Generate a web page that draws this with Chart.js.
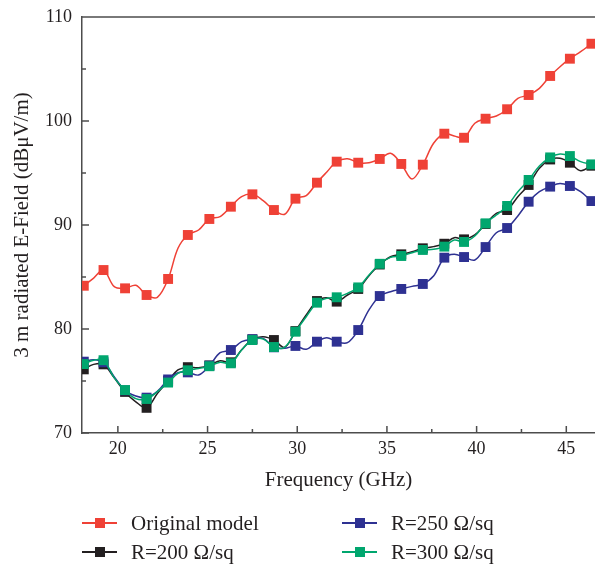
<!DOCTYPE html>
<html>
<head>
<meta charset="utf-8">
<script src="https://cdn.jsdelivr.net/npm/chart.js@4"></script>
<style>
  html, body { margin:0; padding:0; background:#fff; }
  #wrap { position:relative; width:595px; height:570px; }
  #legend { position:absolute; left:82px; top:511px; width:513px; display:grid; grid-template-columns:260px 253px; row-gap:5px;
            font-family:"Liberation Serif", serif; font-size:21px; color:#231f20; }
  .item { display:flex; align-items:center; height:24px; }
  .sample { position:relative; width:35px; height:24px; margin-right:14px; }
  .sample .ln { position:absolute; left:0; right:0; top:11px; height:1.5px; }
  .sample .mk { position:absolute; left:13px; top:7px; width:10px; height:10px; }
</style>
</head>
<body>
<div id="wrap">
  <canvas id="c" width="595" height="570"></canvas>
  <div id="legend"></div>
</div>
<script>
// frequency (GHz): markers on even indexes, spline points in between
const freq = [18.1,18.65,19.2,19.8,20.4,21.0,21.6,22.2,22.8,23.35,23.9,24.5,25.1,25.7,26.3,26.9,27.5,28.1,28.7,29.3,
  29.9,30.5,31.1,31.65,32.2,32.8,33.4,34.0,34.6,35.2,35.8,36.4,37.0,37.6,38.2,38.75,39.3,39.9,40.5,41.1,
  41.7,42.3,42.9,43.5,44.1,44.65,45.2,45.8,46.4];

const original = [84.16,84.9,85.67,84.07,83.91,84.2,83.27,83.05,84.81,87.76,89.04,89.52,90.58,90.8,91.76,92.72,92.95,92.34,91.44,91.03,
  92.53,92.82,94.07,95.1,96.09,96.38,95.99,95.99,96.35,96.89,95.87,94.42,95.8,97.86,98.78,98.56,98.39,99.78,100.22,100.48,
  101.13,102.18,102.5,103.14,104.33,105.22,105.99,106.66,107.43];

const r200 = [76.12,76.6,76.6,75.3,73.95,73.0,72.42,73.8,75.0,76.06,76.33,76.28,76.5,76.95,76.8,78.0,79.0,79.26,78.94,78.24,
  79.8,81.35,82.69,83.0,82.63,83.27,83.85,85.13,86.2,86.95,87.18,87.43,87.76,87.92,88.2,88.78,88.62,89.04,90.1,91.12,
  91.44,92.72,93.85,95.45,96.3,96.41,95.99,95.22,95.7];

const r250 = [76.86,77.05,76.8,75.4,74.1,73.56,73.4,74.0,75.15,75.8,75.83,75.58,76.47,77.72,77.98,78.78,79.02,79.1,78.24,78.14,
  78.37,78.05,78.78,79.17,78.78,78.69,79.9,81.83,83.17,83.59,83.85,84.1,84.33,85.1,86.86,87.18,86.92,86.63,87.88,89.26,
  89.71,90.87,92.24,93.2,93.69,94.0,93.75,93.2,92.3];

const r300 = [76.63,77.0,77.0,75.3,74.13,73.3,73.27,73.97,74.85,75.74,76.03,76.2,76.42,76.8,76.7,77.98,78.94,79.04,78.27,78.24,
  79.74,81.18,82.53,82.95,83.05,83.43,84.0,85.19,86.27,86.89,87.02,87.34,87.6,87.66,87.92,88.56,88.37,88.94,90.16,90.96,
  91.83,93.2,94.33,95.67,96.5,96.83,96.63,96.09,95.83];

const xTicks = [20,25,30,35,40,45];
const xMinor = [22.5,27.5,32.5,37.5,42.5];
const yMinor = [75,85,95,105];

const FONT = '"Liberation Serif", serif';
const AXIS = '#4d4d4d';

function series(label, vals, color, order){
  return {
    label, order,
    data: freq.map((f,i)=>({x:f, y:vals[i]})),
    borderColor: color, backgroundColor: color,
    borderWidth: 1.5, tension: 0.35,
    pointStyle: 'rect',
    pointRadius: ctx => ctx.dataIndex % 2 === 0 ? 7 : 0,
    pointBorderWidth: 0
  };
}

const datasets = [
  series('Original model', original, '#ef4136', 4),
  series('R=250 Ω/sq', r250, '#2e3192', 2),
  series('R=200 Ω/sq', r200, '#231f20', 3),
  series('R=300 Ω/sq', r300, '#00a66e', 1)
];

// inward tick marks + top frame line
const frame = {
  id:'frame',
  afterDraw(chart){
    const {ctx, chartArea:a, scales:{x,y}} = chart;
    ctx.save();
    ctx.strokeStyle = AXIS; ctx.lineWidth = 1.5;
    ctx.beginPath();
    ctx.moveTo(a.left, a.top); ctx.lineTo(a.right, a.top);
    xTicks.forEach(v=>{ const px=x.getPixelForValue(v); ctx.moveTo(px,a.bottom); ctx.lineTo(px,a.bottom-7); });
    xMinor.forEach(v=>{ const px=x.getPixelForValue(v); ctx.moveTo(px,a.bottom); ctx.lineTo(px,a.bottom-4); });
    y.ticks.forEach(t=>{ const py=y.getPixelForValue(t.value); ctx.moveTo(a.left,py); ctx.lineTo(a.left+7,py); });
    yMinor.forEach(v=>{ const py=y.getPixelForValue(v); ctx.moveTo(a.left,py); ctx.lineTo(a.left+4,py); });
    ctx.stroke();
    ctx.restore();
  }
};

new Chart(document.getElementById('c'), {
  type:'line',
  data:{ datasets },
  options:{
    responsive:false, animation:false,
    layout:{ autoPadding:false, padding:{ top:17, right:0, bottom:77, left:0 } },
    plugins:{ legend:{ display:false }, tooltip:{ enabled:false } },
    scales:{
      x:{
        type:'linear', min:18, max:46.6,
        afterBuildTicks: s => { s.ticks = xTicks.map(v=>({value:v})); },
        afterFit: s => { s.height = 60; s.paddingLeft = 0; s.paddingRight = 0; },
        grid:{ display:false, drawTicks:false },
        border:{ color:AXIS, width:1.5 },
        ticks:{ padding:5, color:'#231f20', font:{ family:FONT, size:18 } },
        title:{ display:true, text:'Frequency (GHz)', color:'#231f20', padding:{top:0,bottom:0}, font:{ family:FONT, size:21 } }
      },
      y:{
        min:70, max:110,
        ticks:{ stepSize:10, padding:10, color:'#231f20', font:{ family:FONT, size:18 } },
        afterFit: s => { s.width = 82; s.paddingTop = 0; s.paddingBottom = 0; },
        grid:{ display:false, drawTicks:false },
        border:{ color:AXIS, width:1.5 },
        title:{ display:true, text:'3 m radiated E-Field (dBμV/m)', color:'#231f20', padding:{top:10,bottom:0}, font:{ family:FONT, size:21 } }
      }
    }
  },
  plugins:[frame]
});

// two-column legend
const legend = document.getElementById('legend');
datasets.forEach(d=>{
  const it = document.createElement('div');
  it.className = 'item';
  it.innerHTML = `<span class="sample"><span class="ln" style="background:${d.borderColor}"></span><span class="mk" style="background:${d.borderColor}"></span></span><span>${d.label}</span>`;
  legend.appendChild(it);
});
</script>
</body>
</html>
